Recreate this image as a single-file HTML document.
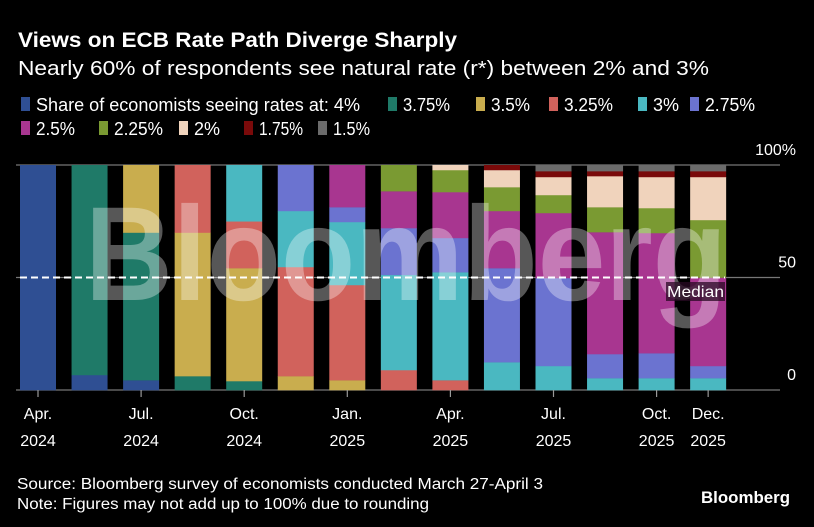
<!DOCTYPE html>
<html><head><meta charset="utf-8"><style>
html,body{margin:0;padding:0;background:#000;}
svg{display:block;font-family:"Liberation Sans",sans-serif;}
</style></head><body>
<svg id="chart" width="814" height="527" viewBox="0 0 814 527" xmlns="http://www.w3.org/2000/svg">
<rect width="814" height="527" fill="#000"/>
<text x="18" y="47" fill="#fff" font-size="21" font-weight="bold" textLength="439" lengthAdjust="spacingAndGlyphs">Views on ECB Rate Path Diverge Sharply</text>
<text x="18" y="75" fill="#fff" font-size="20" textLength="691" lengthAdjust="spacingAndGlyphs">Nearly 60% of respondents see natural rate (r*) between 2% and 3%</text>
<g id="legend"></g>
<g id="grid"></g>
<g id="bars"></g>
<g id="wm"></g>
<g id="axes"></g>
<text x="17" y="489" fill="#fff" font-size="15.5" textLength="526" lengthAdjust="spacingAndGlyphs">Source: Bloomberg survey of economists conducted March 27-April 3</text>
<text x="17" y="509" fill="#fff" font-size="15.5" textLength="412" lengthAdjust="spacingAndGlyphs">Note: Figures may not add up to 100% due to rounding</text>
<text x="790" y="503" text-anchor="end" fill="#fff" font-size="17" font-weight="bold" textLength="89" lengthAdjust="spacingAndGlyphs">Bloomberg</text>
</svg>
<script>
const seriesNames = ["4%","3.75%","3.5%","3.25%","3%","2.75%","2.5%","2.25%","2%","1.75%","1.5%"];
const seriesColors = ["#2f4f93","#1f7a68","#c9ad4e","#d1625c","#4ab8c1","#6b73d0","#a83690","#7a9a32","#f0d3bc","#7a0a0a","#6b6b6b"];
const s4    = [100,6.7,4.4,0,0,0,0,0,0,0,0,0,0,0];
const s375  = [0,93.3,65.6,6.2,4,0,0,0,0,0,0,0,0,0];
const s35   = [0,0,30,63.8,50.2,6.2,4.4,0,0,0,0,0,0,0];
const s325  = [0,0,0,30,20.8,48.5,42.3,8.9,4.4,0,0,0,0,0];
const s3    = [0,0,0,0,25,24.9,28,42.3,48,12.4,10.7,5.3,5.3,5.3];
const s275  = [0,0,0,0,0,20.4,6.6,20.8,15.2,41.8,39.1,10.7,11.1,5.4];
const s25   = [0,0,0,0,0,0,18.7,16.4,20.4,25.4,28.9,54.2,53.4,39.3];
const s225  = [0,0,0,0,0,0,0,11.6,9.8,10.6,8,11.1,11.1,25.6];
const s2    = [0,0,0,0,0,0,0,0,2.2,7.6,8,13.8,13.8,19.1];
const s175  = [0,0,0,0,0,0,0,0,0,2.2,2.6,2.2,2.6,2.6];
const s15   = [0,0,0,0,0,0,0,0,0,0,2.7,2.7,2.7,2.7];
const tickIdx = [0,2,4,6,8,10,12,13];
const tickMonths = ["Apr.","Jul.","Oct.","Jan.","Apr.","Jul.","Oct.","Dec."];
const tickYears = ["2024","2024","2024","2025","2025","2025","2025","2025"];
const yTicks = [0,50,100];
const medianValue = 50;

const NS="http://www.w3.org/2000/svg";
const series=[s4,s375,s35,s325,s3,s275,s25,s225,s2,s175,s15];
const nBars=s4.length;
const y0=390,yTop=165;
const y=v=>y0-(v/100)*(y0-yTop);
const pitch=51.55,bw=36,x0=20;
const x=i=>x0+i*pitch;
function mk(tag,attrs,parent){const e=document.createElementNS(NS,tag);for(const k in attrs)e.setAttribute(k,attrs[k]);parent.appendChild(e);return e;}

// legend
const leg=document.getElementById('legend');
const legPos=[[21,104],[388,104],[476,104],[549,104],[638,104],[690,104],[21,128],[99,128],[179,128],[244,128],[318,128]];
const legW=[324,47,39,49,26,50,39,49,26,44,37];
seriesNames.forEach((n,i)=>{
  const g=mk('g',{},leg);
  
  
  const [lx,ly]=legPos[i];
  mk('rect',{x:lx,y:ly-7,width:9,height:14,fill:seriesColors[i]},g);
  const t=mk('text',{x:lx+15,y:ly+7,fill:'#fff','font-size':18,textLength:legW[i],lengthAdjust:'spacingAndGlyphs'},g);
  t.textContent=(i===0?'Share of economists seeing rates at: ':'')+n;
});

// grid & y labels
const grid=document.getElementById('grid');
yTicks.forEach(v=>{
  const l=mk('line',{x1:16,x2:780,y1:y(v),y2:y(v),stroke:'#777','stroke-width':1.2},grid);
  
  
  const t=mk('text',{x:796,y:y(v)-10,'text-anchor':'end',fill:'#fff','font-size':16},grid);
  
  
  t.textContent=v===100?'100%':String(v);
});

// bars
const bars=document.getElementById('bars');
for(let i=0;i<nBars;i++){
  let cum=0;
  series.forEach((s,k)=>{
    const v=s[i]; if(v<=0)return;
    const r=mk('rect',{x:x(i),y:y(cum+v),width:bw,height:y(cum)-y(cum+v)+0.3,fill:seriesColors[k]},bars);
    
    
    cum+=v;
  });
}
const med=mk('line',{x1:20,x2:725,y1:y(medianValue),y2:y(medianValue),stroke:'#fff','stroke-width':2,'stroke-dasharray':'7,4'},bars);



// watermark
const wm=document.getElementById('wm');
const w=mk('text',{x:85,y:300,fill:'rgba(255,255,255,0.34)','font-size':134,'font-weight':'bold',textLength:642,lengthAdjust:'spacingAndGlyphs'},wm);


w.textContent='Bloomberg';
const mb=mk('rect',{x:666,y:282,width:59,height:19,fill:'rgba(40,10,35,0.75)'},wm);


const mt=mk('text',{x:695.5,y:297,'text-anchor':'middle',fill:'#fff','font-size':16,textLength:57,lengthAdjust:'spacingAndGlyphs'},wm);


mt.textContent='Median';

// x ticks
const ax=document.getElementById('axes');
tickIdx.forEach((bi,j)=>{
  const cx=x(bi)+bw/2;
  const tk=mk('line',{x1:cx,x2:cx,y1:390,y2:397,stroke:'#999','stroke-width':1.2},ax);
  
  
  const t1=mk('text',{x:cx,y:419,'text-anchor':'middle',fill:'#fff','font-size':16},ax);
  
  
  t1.textContent=tickMonths[j];
  const t2=mk('text',{x:cx,y:446,'text-anchor':'middle',fill:'#fff','font-size':16},ax);
  
  
  t2.textContent=tickYears[j];
});
</script>
</body></html>
